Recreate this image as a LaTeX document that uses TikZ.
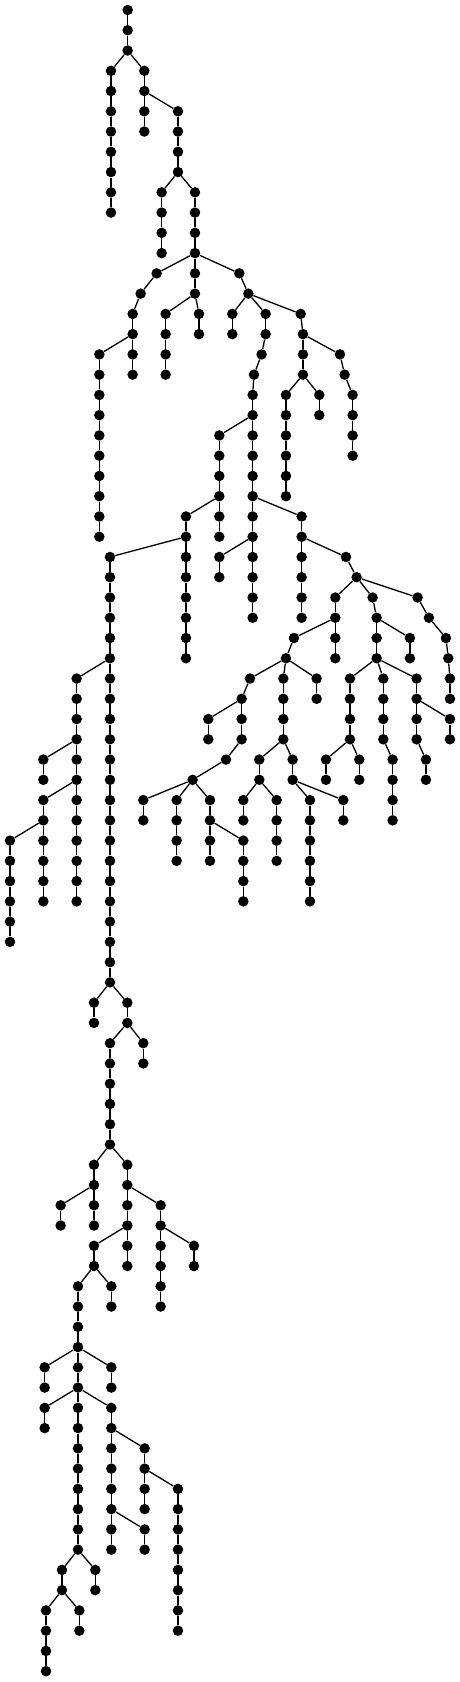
\documentclass[tikz,border=0pt]{standalone}
\usepackage{tikz}

\begin{document}
\begin{tikzpicture}[x=0.33333pt, y=-20.26pt,
    vertex/.style={circle, fill=black, inner sep=0pt, minimum size=10.5pt},
    link/.style={line width=1.3pt}]
    \useasboundingbox (0,-0.4936) rectangle (1380,82.5336);
    % Root
    \foreach \l in {0,1,2}{
      \node[vertex] (r-\l) at (383,\l) {};
    }
    \draw[link] (r-0) -- (r-1) -- (r-2);
    % Chains: name/x/first level/last level/parent
    \foreach \n/\x/\a/\b/\p in {
      b1/333/3/10/r-2, b2/433/3/6/r-2, b3/534/5/8/b2-4,
      b4/485/9/12/b3-8, b5/585/9/14/b3-8,
      c1/470/13/13/b5-12, c2/422/14/14/c1-13, c3/398/15/18/c2-14,
      c4/298/17/26/c3-16, c5/718/13/13/b5-12, c6/745/14/14/c5-13,
      c7/497/15/18/b5-14, c8/597/15/16/b5-14, c9/697/15/16/c6-14,
      c10/797/15/16/c6-14, c11/902/15/15/c6-14, c12/785/17/17/c10-16,
      c13/762/18/18/c12-17, c14/758/19/30/c13-18, c15/658/21/26/c14-20,
      c16/558/25/32/c15-24, c17/658/27/28/c14-26, c18/905/25/30/c14-24,
      c19/1038/27/27/c18-26, c20/1070/28/28/c19-27, c21/909/16/18/c11-15,
      c22/1020/17/17/c21-16, c23/1034/18/18/c22-17, c24/1058/19/22/c23-18,
      c25/858/19/24/c21-18, c26/958/19/20/c21-18,
      m/330/27/48/c16-26,
      d1/230/33/44/m-32, d2/130/37/38/d1-36, d3/130/39/44/d1-38,
      d4/30/41/46/d3-40,
      e1/1006/29/32/c20-28, e2/1118/29/29/c20-28, e3/1253/29/29/c20-28,
      e4/1130/30/32/e2-29, e5/1230/31/32/e4-30, e6/1287/30/30/e3-29,
      e7/1338/31/31/e6-30, e8/1345/32/32/e7-31, e9/1350/33/34/e8-32,
      e10/882/31/31/e1-30, e11/858/32/32/e10-31,
      f1/750/33/33/e11-32, f2/850/33/36/e11-32, f3/950/33/34/e11-32,
      f4/725/34/36/f1-33, f5/625/35/36/f4-34, f6/678/37/37/f4-36,
      f7/578/38/38/f6-37, f8/430/39/40/f7-38, f9/530/39/42/f7-38,
      f10/630/39/42/f7-38, f11/730/41/44/f10-40,
      g1/778/37/38/f2-36, g2/878/37/38/f2-36, g3/730/39/40/g1-38,
      g4/830/39/42/g1-38, g5/930/39/44/g2-38, g6/1030/39/40/g2-38,
      h1/1050/33/36/e4-32, h2/1150/33/36/e4-32, h3/1250/33/36/e4-32,
      h4/978/37/38/h1-36, h5/1078/37/38/h1-36, h6/1178/37/40/h2-36,
      h7/1350/35/36/h3-34, h8/1278/37/38/h3-36,
      p1/282/49/50/m-48, p2/382/49/50/m-48, p3/330/51/56/p2-50,
      p4/430/51/52/p2-50, p5/282/57/60/p3-56, p6/382/57/62/p3-56,
      p7/182/59/60/p5-58, p8/482/59/64/p6-58, p9/582/61/62/p8-60,
      p10/282/61/62/p6-60, p11/234/63/76/p10-62, p12/334/63/64/p10-62,
      p13/134/67/68/p11-66, p14/334/67/68/p11-66, p15/134/69/70/p11-68,
      p16/334/69/76/p11-68, p17/434/71/74/p16-70, p18/534/73/80/p17-72,
      p19/434/75/76/p16-74, p20/186/77/78/p11-76, p21/286/77/78/p11-76,
      p22/138/79/82/p20-78, p23/238/79/80/p20-78}{
      \foreach \l in {\a,...,\b}{
        \node[vertex] (\n-\l) at (\x,\l) {};
        \ifnum\l=\a
          \draw[link] (\p) -- (\n-\l);
        \else
          \pgfmathtruncatemacro\pl{\l-1}
          \draw[link] (\n-\pl) -- (\n-\l);
        \fi
      }
    }
\end{tikzpicture}
\end{document}
